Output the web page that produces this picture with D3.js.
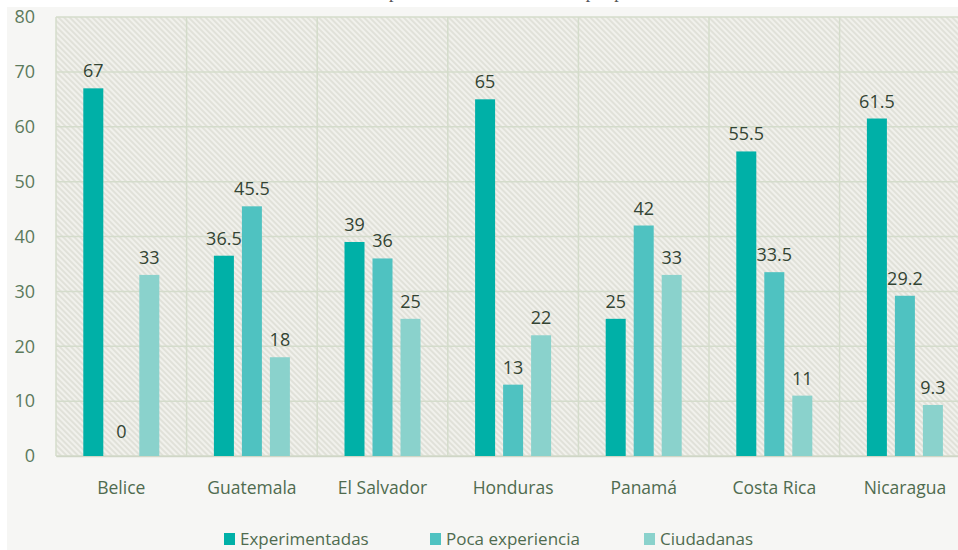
<!DOCTYPE html>
<html>
<head>
<meta charset="utf-8">
<script src="https://cdn.jsdelivr.net/npm/d3@7"></script>
<style>
  html, body { margin: 0; padding: 0; background: #fff; }
  svg { display: block; font-family: "Open Sans", "Noto Sans", sans-serif; }
</style>
</head>
<body>
<svg id="chart" width="958" height="550"></svg>
<script>
// data
const countries = ['Belice', 'Guatemala', 'El Salvador', 'Honduras', 'Panamá', 'Costa Rica', 'Nicaragua'];
const seriesNames = ['Experimentadas', 'Poca experiencia', 'Ciudadanas'];
const experimentadas = [67, 36.5, 39, 65, 25, 55.5, 61.5];
const pocaExperiencia = [0, 45.5, 36, 13, 42, 33.5, 29.2];
const ciudadanas = [33, 18, 25, 22, 33, 11, 9.3];
const yTicks = [0, 10, 20, 30, 40, 50, 60, 70, 80];
const colors = ['#00b0a7', '#4fc2c1', '#8ad2cc'];

const W = 958, H = 550;
const PLOT_LEFT = 56, PLOT_TOP = 17, PLOT_BOTTOM = 456;
const BAND = 130.6;

const svg = d3.select('#chart');

// title strip, mostly cut off at the top of the picture
svg.append('text')
    .attr('x', 490)
    .attr('y', -2)
    .attr('text-anchor', 'middle')
    .attr('font-family', '"Liberation Serif", "DejaVu Serif", serif')
    .attr('font-size', 18)
    .attr('fill', '#555')
    .text('Gráfica N° 1. Nivel de experiencia de las candidatas por país en Centroamérica');

// panel
svg.append('rect')
    .attr('x', 7).attr('y', 7)
    .attr('width', W - 7).attr('height', H - 7)
    .attr('fill', '#f6f6f4');

const defs = svg.append('defs');
const pat = defs.append('pattern')
    .attr('id', 'hatch')
    .attr('patternUnits', 'userSpaceOnUse')
    .attr('width', 4).attr('height', 4)
    .attr('patternTransform', 'rotate(-45)');
pat.append('rect').attr('width', 4).attr('height', 4).attr('fill', '#f1f1ec');
pat.append('line')
    .attr('x1', 1).attr('y1', 0).attr('x2', 1).attr('y2', 4)
    .attr('stroke', '#d6d7cd').attr('stroke-width', 1.2);

const x = d3.scaleBand()
    .domain(countries)
    .range([PLOT_LEFT, PLOT_LEFT + BAND * countries.length])
    .padding(0);

const xs = d3.scaleBand()
    .domain(seriesNames)
    .range([BAND / 2 - 38, BAND / 2 + 38])
    .paddingInner(8 / 28)
    .paddingOuter(0);

const y = d3.scaleLinear().domain([0, 80]).range([PLOT_BOTTOM, PLOT_TOP]);

// hatched plot background
svg.append('rect')
    .attr('x', PLOT_LEFT).attr('y', PLOT_TOP)
    .attr('width', W - PLOT_LEFT).attr('height', PLOT_BOTTOM - PLOT_TOP)
    .attr('fill', 'url(#hatch)');

// grid
const grid = svg.append('g').attr('stroke', '#d4dccb').attr('stroke-width', 1.5);
grid.selectAll('line.h')
    .data(yTicks)
    .join('line')
    .attr('class', 'h')
    .attr('x1', PLOT_LEFT).attr('x2', W)
    .attr('y1', d => y(d)).attr('y2', d => y(d));
grid.selectAll('line.v')
    .data(countries)
    .join('line')
    .attr('class', 'v')
    .attr('x1', d => x(d)).attr('x2', d => x(d))
    .attr('y1', PLOT_TOP).attr('y2', PLOT_BOTTOM);

// y axis labels
const yAxis = svg.append('g')
    .attr('transform', `translate(${PLOT_LEFT - 21},0)`)
    .call(d3.axisLeft(y).tickValues(yTicks).tickSize(0).tickPadding(0).tickFormat(d3.format('d')));
yAxis.select('.domain').remove();
yAxis.selectAll('text')
    .attr('font-family', '"Open Sans", sans-serif')
    .attr('font-size', 18)
    .attr('fill', '#5c7a5c');

// x axis labels
const xAxis = svg.append('g')
    .attr('transform', `translate(0,${PLOT_BOTTOM})`)
    .call(d3.axisBottom(x).tickSize(0).tickPadding(26));
xAxis.select('.domain').attr('stroke', '#d0d6c6').attr('stroke-width', 1.5);
xAxis.selectAll('text')
    .attr('font-family', '"Open Sans", sans-serif')
    .attr('font-size', 17.5)
    .attr('fill', '#4f6b4f');

// bars
const rows = countries.map((c, i) => ({
    country: c,
    values: [experimentadas[i], pocaExperiencia[i], ciudadanas[i]]
}));

const groups = svg.append('g')
    .selectAll('g')
    .data(rows)
    .join('g')
    .attr('transform', d => `translate(${x(d.country)},0)`);

groups.selectAll('rect')
    .data(d => d.values.map((v, k) => ({ key: seriesNames[k], v, k })))
    .join('rect')
    .attr('x', d => xs(d.key))
    .attr('y', d => y(d.v))
    .attr('width', xs.bandwidth())
    .attr('height', d => PLOT_BOTTOM - y(d.v))
    .attr('fill', d => colors[d.k]);

groups.selectAll('text')
    .data(d => d.values.map((v, k) => ({ key: seriesNames[k], v, k })))
    .join('text')
    .attr('x', d => xs(d.key) + xs.bandwidth() / 2)
    .attr('y', d => y(d.v) - (d.v === 0 ? 18 : 11))
    .attr('text-anchor', 'middle')
    .attr('font-family', '"Open Sans", sans-serif')
    .attr('font-size', 18)
    .attr('fill', '#334433')
    .text(d => d.v);

// legend
const legendX = [224, 430, 644];
const legend = svg.append('g')
    .selectAll('g')
    .data(seriesNames)
    .join('g')
    .attr('transform', (d, i) => `translate(${legendX[i]},533)`);
legend.append('rect')
    .attr('width', 11).attr('height', 12)
    .attr('fill', (d, i) => colors[i]);
legend.append('text')
    .attr('x', 16).attr('y', 12)
    .attr('font-family', '"Open Sans", sans-serif')
    .attr('font-size', 17)
    .attr('fill', '#4f6b4f')
    .text(d => d);
</script>
</body>
</html>
